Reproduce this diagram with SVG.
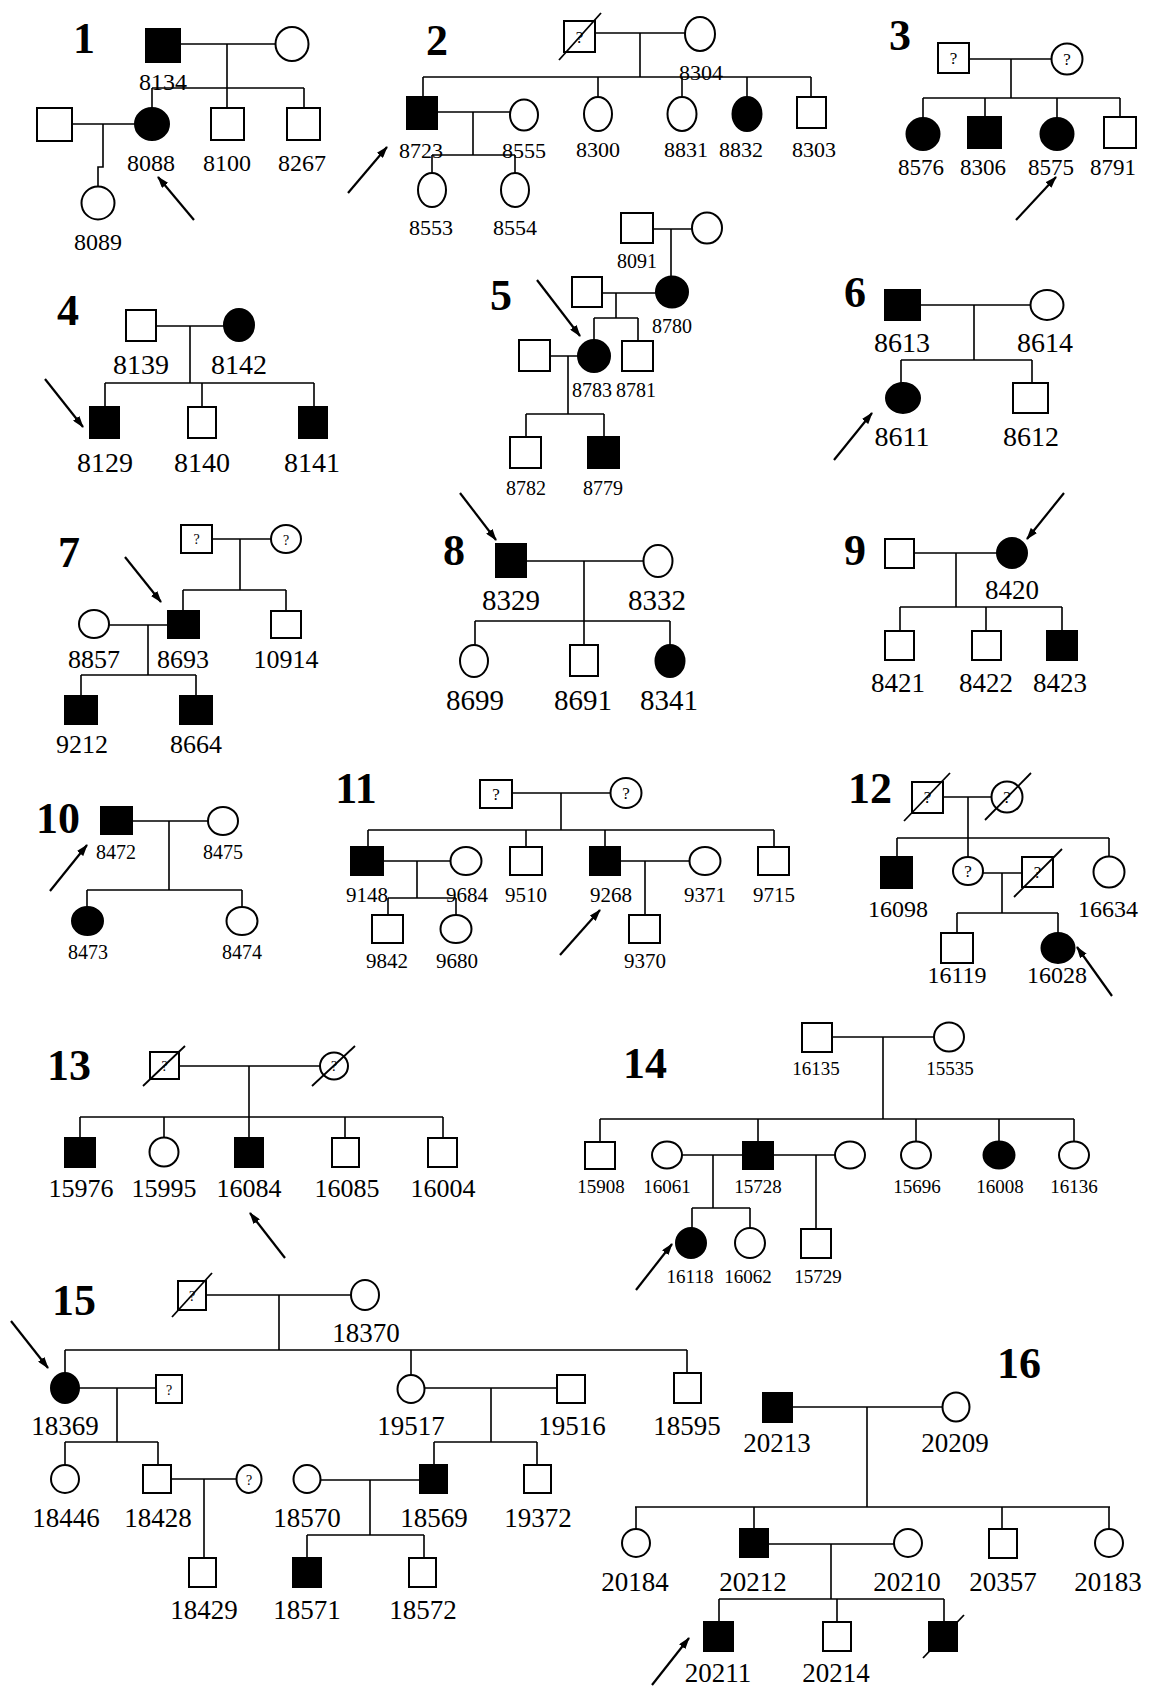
<svg xmlns="http://www.w3.org/2000/svg" width="1150" height="1688" viewBox="0 0 1150 1688">
<style>
.u{fill:#fff;stroke:#000;stroke-width:2}
.f{fill:#000;stroke:#000;stroke-width:2}
.ln{fill:none;stroke:#000;stroke-width:1.6}
.sl{fill:none;stroke:#000;stroke-width:1.8}
.ar{fill:none;stroke:#000;stroke-width:2.2}
text{font-family:"Liberation Serif","Times New Roman",serif;fill:#000;text-anchor:middle}
.h{font-size:44px;font-weight:bold}
.t19{font-size:19px}.t20{font-size:20px}.t21{font-size:21px}.t22{font-size:22px}.t23{font-size:23px}.t24{font-size:24px}.t26{font-size:26px}.t27{font-size:27px}.t28{font-size:28px}.t29{font-size:29px}
.q{font-size:17px}.qs{font-size:14px}
</style>
<defs>
<marker id="ah" viewBox="0 0 12 8" refX="11" refY="4" markerWidth="12" markerHeight="8" markerUnits="userSpaceOnUse" orient="auto">
<path d="M0,0 L12,4 L0,8 z" fill="#000"/>
</marker>
</defs>
<rect width="1150" height="1688" fill="#fff"/>

<g id="labels">
<text class="h" x="84" y="53">1</text>
<text class="h" x="437" y="55">2</text>
<text class="h" x="900" y="50">3</text>
<text class="h" x="68" y="325">4</text>
<text class="h" x="501" y="310">5</text>
<text class="h" x="855" y="307">6</text>
<text class="h" x="69" y="567">7</text>
<text class="h" x="454" y="565">8</text>
<text class="h" x="855" y="565">9</text>
<text class="h" x="58" y="833">10</text>
<text class="h" x="356" y="803">11</text>
<text class="h" x="870" y="803">12</text>
<text class="h" x="69" y="1080">13</text>
<text class="h" x="645" y="1078">14</text>
<text class="h" x="74" y="1315">15</text>
<text class="h" x="1019" y="1378">16</text>
</g>

<g id="connectors">
<!-- 1 -->
<path class="ln" d="M180 44H276M227 44V108M152 88H304M152 88V108M304 88V108M72 124H135M103 124V167H98V187"/>
<!-- 2 -->
<path class="ln" d="M595 33H685M640 33V77M423 77H811M423 77V97M598 77V97M682 77V97M747 77V97M811 77V97M437 112H510M473 112V155M432 155H515M432 155V173M515 155V173"/>
<!-- 3 -->
<path class="ln" d="M969 59H1052M1011 59V98M923 98H1120M923 98V118M985 98V117M1057 98V118M1120 98V117"/>
<!-- 4 -->
<path class="ln" d="M156 326H224M190 326V383M105 383H314M105 383V407M202 383V407M314 383V407"/>
<!-- 5 -->
<path class="ln" d="M653 229H692M671 229V277M602 293H656M616 293V318M594 318H638M594 318V340M638 318V341M550 356H578M568 356V414M526 414H604M526 414V437M604 414V437"/>
<!-- 6 -->
<path class="ln" d="M920 305H1030M974 305V360M901 360H1032M901 360V383M1032 360V383"/>
<!-- 7 -->
<path class="ln" d="M212 539H271M240 539V590M183 590H286M183 590V611M286 590V611M109 625H168M148 625V675M81 675H196M81 675V696M196 675V696"/>
<!-- 8 -->
<path class="ln" d="M526 561H643M584 561V621M475 621H670M475 621V645M584 621V645M670 621V645"/>
<!-- 9 -->
<path class="ln" d="M914 553H997M956 553V607M900 607H1062M900 607V631M986 607V631M1062 607V631"/>
<!-- 10 -->
<path class="ln" d="M132 821H208M169 821V890M87 890H242M87 890V907M242 890V907"/>
<!-- 11 -->
<path class="ln" d="M512 793H610M561 793V830M368 830H774M368 830V847M526 830V847M605 830V847M774 830V847M383 861H451M417 861V898M388 898H456M388 898V915M456 898V915M620 861H689M645 861V915"/>
<!-- 12 -->
<path class="ln" d="M943 797H992M968 797V857M897 838H1109M897 838V857M1109 838V857M983 873H1022M1002 873V913M957 913H1058M957 913V933M1058 913V933"/>
<!-- 13 -->
<path class="ln" d="M179 1066H320M249 1066V1117M80 1117H443M80 1117V1138M164 1117V1138M249 1117V1138M345 1117V1138M443 1117V1138"/>
<!-- 14 -->
<path class="ln" d="M832 1037H934M883 1037V1119M600 1119H1074M600 1119V1142M758 1119V1142M916 1119V1142M999 1119V1142M1074 1119V1142M682 1155H743M713 1155V1208M692 1208H750M692 1208V1228M750 1208V1228M773 1155H835M816 1155V1229"/>
<!-- 15 -->
<path class="ln" d="M206 1295H351M279 1295V1350M65 1350H687M65 1350V1373M411 1350V1375M687 1350V1373M79 1388H156M117 1388V1442M65 1442H158M65 1442V1465M158 1442V1465M171 1479H237M204 1479V1558M425 1388H557M491 1388V1442M434 1442H537M434 1442V1465M537 1442V1465M320 1480H420M370 1480V1535M307 1535H424M307 1535V1558M424 1535V1558"/>
<!-- 16 -->
<path class="ln" d="M792 1407H942M867 1407V1507M635 1507H1110M636 1507V1529M754 1507V1529M1002 1507V1529M1109 1507V1529M768 1544H894M831 1544V1599M719 1599H944M719 1599V1622M837 1599V1622M944 1599V1622"/>
</g>

<g id="arrows">
<line class="ar" x1="194" y1="220" x2="158" y2="177" marker-end="url(#ah)"/>
<line class="ar" x1="348" y1="193" x2="387" y2="147" marker-end="url(#ah)"/>
<line class="ar" x1="1016" y1="220" x2="1056" y2="177" marker-end="url(#ah)"/>
<line class="ar" x1="45" y1="379" x2="83" y2="427" marker-end="url(#ah)"/>
<line class="ar" x1="537" y1="280" x2="580" y2="336" marker-end="url(#ah)"/>
<line class="ar" x1="834" y1="460" x2="872" y2="413" marker-end="url(#ah)"/>
<line class="ar" x1="125" y1="557" x2="161" y2="602" marker-end="url(#ah)"/>
<line class="ar" x1="460" y1="493" x2="496" y2="540" marker-end="url(#ah)"/>
<line class="ar" x1="1064" y1="493" x2="1027" y2="539" marker-end="url(#ah)"/>
<line class="ar" x1="50" y1="891" x2="87" y2="845" marker-end="url(#ah)"/>
<line class="ar" x1="560" y1="955" x2="600" y2="910" marker-end="url(#ah)"/>
<line class="ar" x1="1112" y1="996" x2="1077" y2="947" marker-end="url(#ah)"/>
<line class="ar" x1="285" y1="1258" x2="250" y2="1213" marker-end="url(#ah)"/>
<line class="ar" x1="636" y1="1290" x2="672" y2="1244" marker-end="url(#ah)"/>
<line class="ar" x1="11" y1="1321" x2="48" y2="1368" marker-end="url(#ah)"/>
<line class="ar" x1="652" y1="1685" x2="689" y2="1638" marker-end="url(#ah)"/>
</g>

<!-- Pedigree 1 -->
<g id="n8134"><rect class="f" x="146" y="29" width="34" height="33"/><text class="t24" x="163" y="90">8134</text></g>
<g id="p1-mother"><ellipse class="u" cx="292" cy="44" rx="16.5" ry="17"/></g>
<g id="n8088"><ellipse class="f" cx="152" cy="124" rx="17" ry="16"/><text class="t24" x="151" y="171">8088</text></g>
<g id="n8100"><rect class="u" x="211" y="108" width="33" height="32"/><text class="t24" x="227" y="171">8100</text></g>
<g id="n8267"><rect class="u" x="287" y="108" width="33" height="32"/><text class="t24" x="302" y="171">8267</text></g>
<g id="p1-spouse"><rect class="u" x="37" y="108" width="35" height="33"/></g>
<g id="n8089"><ellipse class="u" cx="98" cy="203" rx="16.5" ry="16.5"/><text class="t24" x="98" y="250">8089</text></g>

<!-- Pedigree 2 -->
<g id="p2-father"><rect class="u" x="564" y="21" width="31" height="31"/><text class="q" x="579.5" y="43">?</text><line class="sl" x1="559" y1="60" x2="601" y2="13"/></g>
<g id="n8304"><ellipse class="u" cx="700" cy="34" rx="15" ry="17"/><text class="t22" x="701" y="80">8304</text></g>
<g id="n8723"><rect class="f" x="407" y="97" width="30" height="32"/><text class="t22" x="421" y="158">8723</text></g>
<g id="n8555"><ellipse class="u" cx="524" cy="115" rx="14" ry="15.5"/><text class="t22" x="524" y="158">8555</text></g>
<g id="n8553"><ellipse class="u" cx="432" cy="190" rx="14" ry="17"/><text class="t22" x="431" y="235">8553</text></g>
<g id="n8554"><ellipse class="u" cx="515" cy="190" rx="14" ry="17"/><text class="t22" x="515" y="235">8554</text></g>
<g id="n8300"><ellipse class="u" cx="598" cy="114" rx="14" ry="17"/><text class="t22" x="598" y="157">8300</text></g>
<g id="n8831"><ellipse class="u" cx="682" cy="114" rx="14.5" ry="17"/><text class="t22" x="686" y="157">8831</text></g>
<g id="n8832"><ellipse class="f" cx="747" cy="114" rx="14.5" ry="17"/><text class="t22" x="741" y="157">8832</text></g>
<g id="n8303"><rect class="u" x="797" y="97" width="29" height="31"/><text class="t22" x="814" y="157">8303</text></g>

<!-- Pedigree 3 -->
<g id="p3-father"><rect class="u" x="938" y="43" width="31" height="30"/><text class="q" x="953.5" y="64">?</text></g>
<g id="p3-mother"><ellipse class="u" cx="1067" cy="59" rx="15.5" ry="15.5"/><text class="q" x="1067" y="65">?</text></g>
<g id="n8576"><ellipse class="f" cx="923" cy="134" rx="16.5" ry="16"/><text class="t23" x="921" y="175">8576</text></g>
<g id="n8306"><rect class="f" x="968" y="117" width="33" height="31"/><text class="t23" x="983" y="175">8306</text></g>
<g id="n8575"><ellipse class="f" cx="1057" cy="134" rx="16.5" ry="16"/><text class="t23" x="1051" y="175">8575</text></g>
<g id="n8791"><rect class="u" x="1104" y="117" width="32" height="31"/><text class="t23" x="1113" y="175">8791</text></g>

<!-- Pedigree 4 -->
<g id="n8139"><rect class="u" x="126" y="310" width="30" height="31"/><text class="t28" x="141" y="374">8139</text></g>
<g id="n8142"><ellipse class="f" cx="239" cy="325" rx="15" ry="16"/><text class="t28" x="239" y="374">8142</text></g>
<g id="n8129"><rect class="f" x="90" y="407" width="29" height="31"/><text class="t28" x="105" y="472">8129</text></g>
<g id="n8140"><rect class="u" x="188" y="407" width="28" height="31"/><text class="t28" x="202" y="472">8140</text></g>
<g id="n8141"><rect class="f" x="299" y="407" width="28" height="31"/><text class="t28" x="312" y="472">8141</text></g>

<!-- Pedigree 5 -->
<g id="n8091"><rect class="u" x="621" y="213" width="32" height="30"/><text class="t20" x="637" y="268">8091</text></g>
<g id="p5-grandmother"><ellipse class="u" cx="707" cy="228" rx="15" ry="15.5"/></g>
<g id="n8780"><ellipse class="f" cx="672" cy="292" rx="16" ry="15.5"/><text class="t20" x="672" y="333">8780</text></g>
<g id="p5-husband"><rect class="u" x="572" y="277" width="30" height="30"/></g>
<g id="n8783"><ellipse class="f" cx="594" cy="356" rx="16" ry="16"/><text class="t20" x="592" y="397">8783</text></g>
<g id="n8781"><rect class="u" x="622" y="341" width="31" height="30"/><text class="t20" x="636" y="397">8781</text></g>
<g id="p5-spouse"><rect class="u" x="519" y="340" width="31" height="31"/></g>
<g id="n8782"><rect class="u" x="510" y="437" width="31" height="31"/><text class="t20" x="526" y="495">8782</text></g>
<g id="n8779"><rect class="f" x="588" y="437" width="31" height="31"/><text class="t20" x="603" y="495">8779</text></g>

<!-- Pedigree 6 -->
<g id="n8613"><rect class="f" x="885" y="290" width="35" height="30"/><text class="t28" x="902" y="352">8613</text></g>
<g id="n8614"><ellipse class="u" cx="1047" cy="305" rx="16.5" ry="15"/><text class="t28" x="1045" y="352">8614</text></g>
<g id="n8611"><ellipse class="f" cx="903" cy="398" rx="17" ry="15"/><text class="t28" x="902" y="446">8611</text></g>
<g id="n8612"><rect class="u" x="1013" y="383" width="35" height="30"/><text class="t28" x="1031" y="446">8612</text></g>

<!-- Pedigree 7 -->
<g id="p7-father"><rect class="u" x="181" y="525" width="31" height="28"/><text class="qs" x="196.5" y="544">?</text></g>
<g id="p7-mother"><ellipse class="u" cx="286" cy="539" rx="15" ry="14"/><text class="qs" x="286" y="545">?</text></g>
<g id="n8693"><rect class="f" x="168" y="611" width="31" height="27"/><text class="t26" x="183" y="668">8693</text></g>
<g id="n10914"><rect class="u" x="271" y="611" width="30" height="27"/><text class="t26" x="286" y="668">10914</text></g>
<g id="n8857"><ellipse class="u" cx="94" cy="624" rx="15" ry="14"/><text class="t26" x="94" y="668">8857</text></g>
<g id="n9212"><rect class="f" x="65" y="696" width="32" height="28"/><text class="t26" x="82" y="753">9212</text></g>
<g id="n8664"><rect class="f" x="180" y="696" width="32" height="28"/><text class="t26" x="196" y="753">8664</text></g>

<!-- Pedigree 8 -->
<g id="n8329"><rect class="f" x="496" y="544" width="30" height="33"/><text class="t29" x="511" y="610">8329</text></g>
<g id="n8332"><ellipse class="u" cx="658" cy="561" rx="14.5" ry="16"/><text class="t29" x="657" y="610">8332</text></g>
<g id="n8699"><ellipse class="u" cx="474" cy="661" rx="14" ry="16"/><text class="t29" x="475" y="710">8699</text></g>
<g id="n8691"><rect class="u" x="570" y="645" width="28" height="31"/><text class="t29" x="583" y="710">8691</text></g>
<g id="n8341"><ellipse class="f" cx="670" cy="661" rx="14.5" ry="16"/><text class="t29" x="669" y="710">8341</text></g>

<!-- Pedigree 9 -->
<g id="p9-father"><rect class="u" x="885" y="539" width="29" height="29"/></g>
<g id="n8420"><ellipse class="f" cx="1012" cy="553" rx="15" ry="15"/><text class="t27" x="1012" y="599">8420</text></g>
<g id="n8421"><rect class="u" x="885" y="631" width="29" height="29"/><text class="t27" x="898" y="692">8421</text></g>
<g id="n8422"><rect class="u" x="972" y="631" width="29" height="29"/><text class="t27" x="986" y="692">8422</text></g>
<g id="n8423"><rect class="f" x="1047" y="631" width="30" height="29"/><text class="t27" x="1060" y="692">8423</text></g>

<!-- Pedigree 10 -->
<g id="n8472"><rect class="f" x="101" y="807" width="31" height="27"/><text class="t20" x="116" y="859">8472</text></g>
<g id="n8475"><ellipse class="u" cx="223" cy="821" rx="15" ry="14"/><text class="t20" x="223" y="859">8475</text></g>
<g id="n8473"><ellipse class="f" cx="87.5" cy="921" rx="15.5" ry="14"/><text class="t20" x="88" y="959">8473</text></g>
<g id="n8474"><ellipse class="u" cx="242" cy="921" rx="15.5" ry="14"/><text class="t20" x="242" y="959">8474</text></g>

<!-- Pedigree 11 -->
<g id="p11-father"><rect class="u" x="480" y="780" width="32" height="28"/><text class="q" x="496" y="800">?</text></g>
<g id="p11-mother"><ellipse class="u" cx="626" cy="793" rx="15.5" ry="15"/><text class="q" x="626" y="799">?</text></g>
<g id="n9148"><rect class="f" x="351" y="847" width="32" height="28"/><text class="t21" x="367" y="902">9148</text></g>
<g id="n9684"><ellipse class="u" cx="466" cy="861" rx="15.5" ry="14"/><text class="t21" x="467" y="902">9684</text></g>
<g id="n9842"><rect class="u" x="372" y="915" width="31" height="28"/><text class="t21" x="387" y="968">9842</text></g>
<g id="n9680"><ellipse class="u" cx="456" cy="929" rx="15.5" ry="14"/><text class="t21" x="457" y="968">9680</text></g>
<g id="n9510"><rect class="u" x="510" y="847" width="32" height="28"/><text class="t21" x="526" y="902">9510</text></g>
<g id="n9268"><rect class="f" x="590" y="847" width="30" height="28"/><text class="t21" x="611" y="902">9268</text></g>
<g id="n9371"><ellipse class="u" cx="705" cy="861" rx="15.5" ry="14"/><text class="t21" x="705" y="902">9371</text></g>
<g id="n9370"><rect class="u" x="629" y="915" width="31" height="28"/><text class="t21" x="645" y="968">9370</text></g>
<g id="n9715"><rect class="u" x="758" y="847" width="31" height="28"/><text class="t21" x="774" y="902">9715</text></g>

<!-- Pedigree 12 -->
<g id="p12-grandfather"><rect class="u" x="912" y="782" width="31" height="31"/><text class="q" x="927.5" y="803">?</text><line class="sl" x1="904" y1="821" x2="950" y2="773"/></g>
<g id="p12-grandmother"><ellipse class="u" cx="1007" cy="797" rx="15.5" ry="15.5"/><text class="q" x="1007" y="803">?</text><line class="sl" x1="985" y1="820" x2="1031" y2="773"/></g>
<g id="n16098"><rect class="f" x="881" y="857" width="31" height="31"/><text class="t24" x="898" y="917">16098</text></g>
<g id="p12-mother"><ellipse class="u" cx="968" cy="871" rx="15" ry="14"/><text class="q" x="968" y="877">?</text></g>
<g id="p12-father"><rect class="u" x="1022" y="857" width="31" height="30"/><text class="q" x="1037.5" y="878">?</text><line class="sl" x1="1014" y1="897" x2="1062" y2="849"/></g>
<g id="n16634"><ellipse class="u" cx="1109" cy="872" rx="15.5" ry="15.5"/><text class="t24" x="1108" y="917">16634</text></g>
<g id="n16119"><rect class="u" x="941" y="933" width="32" height="30"/><text class="t24" x="957" y="983">16119</text></g>
<g id="n16028"><ellipse class="f" cx="1058" cy="948" rx="16.5" ry="15"/><text class="t24" x="1057" y="983">16028</text></g>

<!-- Pedigree 13 -->
<g id="p13-father"><rect class="u" x="150" y="1052" width="29" height="27"/><text class="qs" x="164.5" y="1071">?</text><line class="sl" x1="143" y1="1086" x2="185" y2="1046"/></g>
<g id="p13-mother"><ellipse class="u" cx="334" cy="1066" rx="14" ry="13.5"/><text class="qs" x="334" y="1071">?</text><line class="sl" x1="312" y1="1086" x2="355" y2="1046"/></g>
<g id="n15976"><rect class="f" x="65" y="1138" width="30" height="29"/><text class="t26" x="81" y="1197">15976</text></g>
<g id="n15995"><ellipse class="u" cx="164" cy="1152" rx="14.5" ry="14.5"/><text class="t26" x="164" y="1197">15995</text></g>
<g id="n16084"><rect class="f" x="235" y="1138" width="28" height="29"/><text class="t26" x="249" y="1197">16084</text></g>
<g id="n16085"><rect class="u" x="332" y="1138" width="27" height="29"/><text class="t26" x="347" y="1197">16085</text></g>
<g id="n16004"><rect class="u" x="428" y="1138" width="29" height="29"/><text class="t26" x="443" y="1197">16004</text></g>

<!-- Pedigree 14 -->
<g id="n16135"><rect class="u" x="802" y="1023" width="30" height="29"/><text class="t19" x="816" y="1075">16135</text></g>
<g id="n15535"><ellipse class="u" cx="949" cy="1037" rx="15" ry="14.5"/><text class="t19" x="950" y="1075">15535</text></g>
<g id="n15908"><rect class="u" x="585" y="1142" width="30" height="27"/><text class="t19" x="601" y="1193">15908</text></g>
<g id="n16061"><ellipse class="u" cx="667" cy="1155" rx="15" ry="13.5"/><text class="t19" x="667" y="1193">16061</text></g>
<g id="n15728"><rect class="f" x="743" y="1142" width="30" height="27"/><text class="t19" x="758" y="1193">15728</text></g>
<g id="p14-wife2"><ellipse class="u" cx="850" cy="1155" rx="15" ry="13.5"/></g>
<g id="n15696"><ellipse class="u" cx="916" cy="1155" rx="15" ry="13.5"/><text class="t19" x="917" y="1193">15696</text></g>
<g id="n16008"><ellipse class="f" cx="999" cy="1155" rx="15.5" ry="13.5"/><text class="t19" x="1000" y="1193">16008</text></g>
<g id="n16136"><ellipse class="u" cx="1074" cy="1155" rx="15" ry="13.5"/><text class="t19" x="1074" y="1193">16136</text></g>
<g id="n16118"><ellipse class="f" cx="691" cy="1243" rx="15" ry="15"/><text class="t19" x="690" y="1283">16118</text></g>
<g id="n16062"><ellipse class="u" cx="750" cy="1243" rx="15" ry="15"/><text class="t19" x="748" y="1283">16062</text></g>
<g id="n15729"><rect class="u" x="801" y="1229" width="30" height="29"/><text class="t19" x="818" y="1283">15729</text></g>

<!-- Pedigree 15 -->
<g id="p15-father"><rect class="u" x="178" y="1281" width="28" height="29"/><text class="qs" x="192" y="1301">?</text><line class="sl" x1="172" y1="1317" x2="212" y2="1273"/></g>
<g id="n18370"><ellipse class="u" cx="365" cy="1295" rx="14" ry="15"/><text class="t27" x="366" y="1342">18370</text></g>
<g id="n18369"><ellipse class="f" cx="65" cy="1388" rx="14" ry="15"/><text class="t27" x="65" y="1435">18369</text></g>
<g id="p15-spouse1"><rect class="u" x="156" y="1375" width="26" height="28"/><text class="qs" x="169" y="1395">?</text></g>
<g id="n18446"><ellipse class="u" cx="65" cy="1479" rx="14" ry="14"/><text class="t27" x="66" y="1527">18446</text></g>
<g id="n18428"><rect class="u" x="143" y="1465" width="28" height="28"/><text class="t27" x="158" y="1527">18428</text></g>
<g id="p15-spouse2"><ellipse class="u" cx="249" cy="1479" rx="12.5" ry="14"/><text class="qs" x="249" y="1485">?</text></g>
<g id="n18429"><rect class="u" x="189" y="1558" width="27" height="29"/><text class="t27" x="204" y="1619">18429</text></g>
<g id="n19517"><ellipse class="u" cx="411" cy="1389" rx="13.5" ry="14"/><text class="t27" x="411" y="1435">19517</text></g>
<g id="n19516"><rect class="u" x="557" y="1375" width="28" height="28"/><text class="t27" x="572" y="1435">19516</text></g>
<g id="n18595"><rect class="u" x="674" y="1373" width="27" height="30"/><text class="t27" x="687" y="1435">18595</text></g>
<g id="n18570"><ellipse class="u" cx="307" cy="1479" rx="13.5" ry="14"/><text class="t27" x="307" y="1527">18570</text></g>
<g id="n18569"><rect class="f" x="420" y="1465" width="27" height="28"/><text class="t27" x="434" y="1527">18569</text></g>
<g id="n19372"><rect class="u" x="524" y="1465" width="27" height="28"/><text class="t27" x="538" y="1527">19372</text></g>
<g id="n18571"><rect class="f" x="293" y="1558" width="28" height="29"/><text class="t27" x="307" y="1619">18571</text></g>
<g id="n18572"><rect class="u" x="409" y="1558" width="27" height="29"/><text class="t27" x="423" y="1619">18572</text></g>

<!-- Pedigree 16 -->
<g id="n20213"><rect class="f" x="763" y="1393" width="29" height="29"/><text class="t27" x="777" y="1452">20213</text></g>
<g id="n20209"><ellipse class="u" cx="956" cy="1407" rx="13.5" ry="14.5"/><text class="t27" x="955" y="1452">20209</text></g>
<g id="n20184"><ellipse class="u" cx="636" cy="1543" rx="14" ry="14"/><text class="t27" x="635" y="1591">20184</text></g>
<g id="n20212"><rect class="f" x="740" y="1529" width="28" height="28"/><text class="t27" x="753" y="1591">20212</text></g>
<g id="n20210"><ellipse class="u" cx="908" cy="1543" rx="14" ry="14"/><text class="t27" x="907" y="1591">20210</text></g>
<g id="n20357"><rect class="u" x="989" y="1529" width="28" height="29"/><text class="t27" x="1003" y="1591">20357</text></g>
<g id="n20183"><ellipse class="u" cx="1109" cy="1543" rx="14" ry="14"/><text class="t27" x="1108" y="1591">20183</text></g>
<g id="n20211"><rect class="f" x="704" y="1622" width="29" height="29"/><text class="t27" x="718" y="1682">20211</text></g>
<g id="n20214"><rect class="u" x="823" y="1622" width="28" height="29"/><text class="t27" x="836" y="1682">20214</text></g>
<g id="p16-deceased"><rect class="f" x="929" y="1622" width="28" height="29"/><line class="sl" x1="923" y1="1658" x2="964" y2="1615"/></g>
</svg>
